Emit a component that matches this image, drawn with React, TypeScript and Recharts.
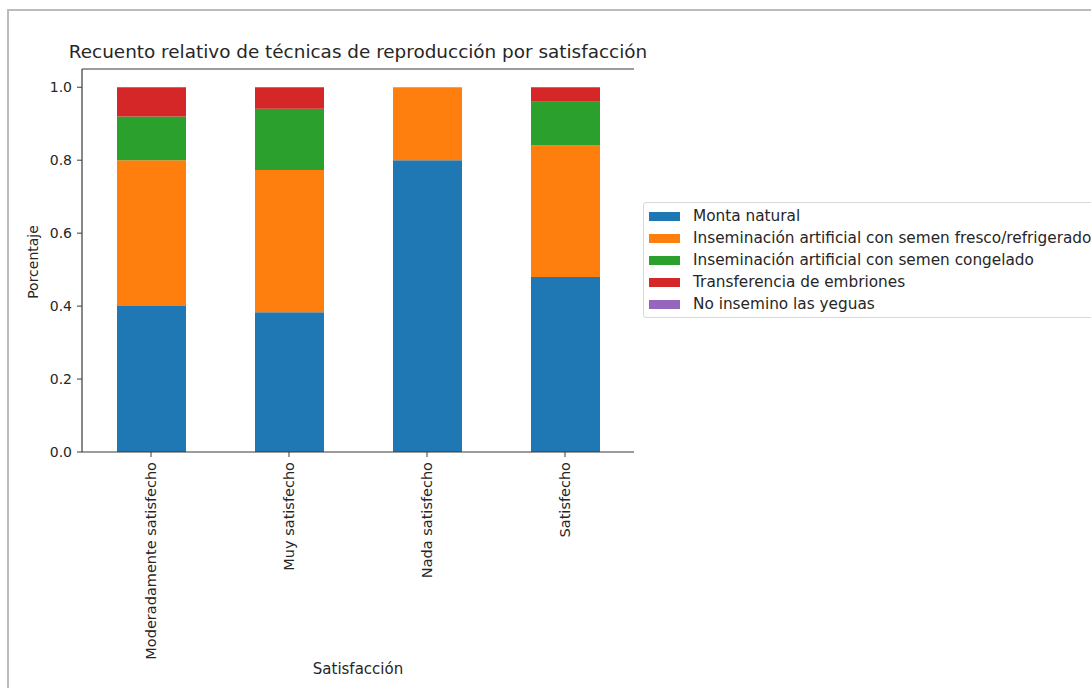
import React from "react";
import { Bar, BarChart, XAxis, YAxis } from "recharts";

// Satisfaction categories (x axis)
const categories = ["Moderadamente satisfecho", "Muy satisfecho", "Nada satisfecho", "Satisfecho"];

// relative share of each technique per category
const montaNatural = [0.4, 0.383, 0.8, 0.48];
const semenFresco = [0.4, 0.39, 0.2, 0.36];
const semenCongelado = [0.12, 0.168, 0, 0.12];
const transferencia = [0.08, 0.059, 0, 0.04];
const noInsemino = [0, 0, 0, 0];

const yTicks = [0, 0.2, 0.4, 0.6, 0.8, 1.0];

const seriesNames = [
  "Monta natural",
  "Inseminación artificial con semen fresco/refrigerado",
  "Inseminación artificial con semen congelado",
  "Transferencia de embriones",
  "No insemino las yeguas",
];
const seriesValues = [montaNatural, semenFresco, semenCongelado, transferencia, noInsemino];
const seriesColors = ["#1f77b4", "#ff7f0e", "#2ca02c", "#d62728", "#9467bd"];
const seriesKeys = ["s0", "s1", "s2", "s3", "s4"];

const data = categories.map((name, i) => {
  const row: Record<string, string | number> = { name };
  seriesKeys.forEach((k, j) => {
    row[k] = seriesValues[j][i];
  });
  return row;
});

const FONT = "'DejaVu Sans', sans-serif";
const TEXT = "#262626";
const AXIS = "#3a3a3a";

function RotatedTick(props: any) {
  const { x, y, payload } = props;
  return (
    <g transform={`translate(${x},${y})`}>
      <text
        transform="rotate(-90)"
        x={-3}
        y={0}
        dy="0.35em"
        textAnchor="end"
        fill={TEXT}
        fontSize={14.5}
        fontFamily={FONT}
      >
        {payload.value}
      </text>
    </g>
  );
}

function LegendBox() {
  return (
    <div
      style={{
        position: "absolute",
        left: 643,
        top: 202,
        border: "1px solid #d8d8d8",
        borderRadius: 3,
        background: "#fff",
        padding: "2px 8px 2px 5px",
        width: 480,
        boxSizing: "border-box",
        fontFamily: FONT,
        fontSize: 15.3,
        color: TEXT,
      }}
    >
      {seriesNames.map((name, j) => (
        <div key={name} style={{ display: "flex", alignItems: "center", height: 22, whiteSpace: "nowrap" }}>
          <span style={{ display: "inline-block", width: 31, height: 9, background: seriesColors[j], marginRight: 13 }} />
          <span>{name}</span>
        </div>
      ))}
    </div>
  );
}

export default function App() {
  return (
    <div
      style={{
        position: "absolute",
        left: 0,
        top: 0,
        width: 1091,
        height: 688,
        overflow: "hidden",
        background: "#fff",
        fontFamily: FONT,
      }}
    >
      <div
        style={{
          position: "absolute",
          left: 7,
          top: 9,
          width: 1200,
          height: 800,
          borderTop: "2px solid #bcbcbc",
          borderLeft: "2px solid #bcbcbc",
        }}
      />
      <BarChart
        width={1091}
        height={688}
        data={data}
        margin={{ top: 68, right: 457, bottom: 0, left: 22 }}
        barSize={69}
        style={{ position: "absolute", left: 0, top: 0 }}
      >
        <XAxis
          dataKey="name"
          height={236}
          interval={0}
          tick={<RotatedTick />}
          tickSize={5}
          tickLine={{ stroke: AXIS }}
          axisLine={{ stroke: AXIS, strokeWidth: 1.2 }}
        />
        <XAxis xAxisId="top" dataKey="name" orientation="top" height={1} tick={false} tickLine={false} axisLine={{ stroke: AXIS, strokeWidth: 1.2 }} />
        <YAxis
          width={60}
          domain={[0, 1.05]}
          ticks={yTicks}
          tickFormatter={(v: number) => v.toFixed(1)}
          tickSize={5}
          tickMargin={5}
          tickLine={{ stroke: AXIS }}
          axisLine={{ stroke: AXIS, strokeWidth: 1.2 }}
          tick={{ fill: TEXT, fontSize: 14, fontFamily: FONT }}
        />
        <YAxis yAxisId="right" orientation="right" width={0} domain={[0, 1.05]} tick={false} tickLine={false} axisLine={{ stroke: AXIS, strokeWidth: 1.2 }} />
        {seriesKeys.map((k, j) => (
          <Bar key={k} dataKey={k} name={seriesNames[j]} stackId="a" fill={seriesColors[j]} isAnimationActive={false} />
        ))}
      </BarChart>
      <LegendBox />
      <svg width={1091} height={688} style={{ position: "absolute", left: 0, top: 0, pointerEvents: "none" }}>
        <text x={358} y={58} textAnchor="middle" fontSize={18.4} fontFamily={FONT} fill={TEXT}>
          Recuento relativo de técnicas de reproducción por satisfacción
        </text>
        <text
          x={33}
          y={262}
          transform="rotate(-90 33 262)"
          textAnchor="middle"
          dominantBaseline="central"
          fontSize={14}
          fontFamily={FONT}
          fill={TEXT}
        >
          Porcentaje
        </text>
        <text x={358} y={669} textAnchor="middle" dominantBaseline="central" fontSize={15} fontFamily={FONT} fill={TEXT}>
          Satisfacción
        </text>
      </svg>
    </div>
  );
}
